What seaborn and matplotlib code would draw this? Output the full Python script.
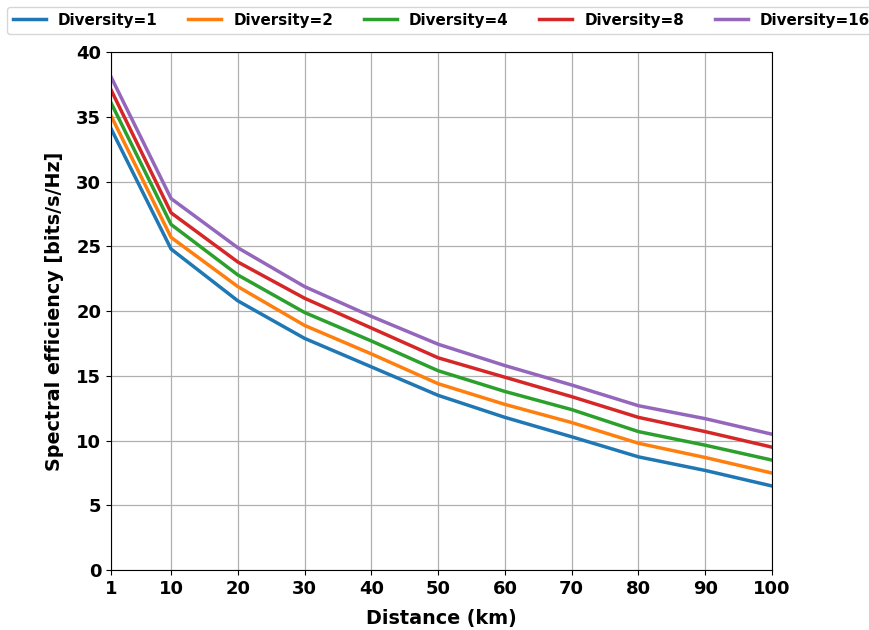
import numpy as np
import pandas as pd
import seaborn as sns
import matplotlib.pyplot as plt

distance = [1, 10, 20, 30, 40, 50, 60, 70, 80, 90, 100]
div_1 = [34.1, 24.8, 20.8, 17.9, 15.7, 13.5, 11.8, 10.3, 8.75, 7.7, 6.5]
div_2 = [35.1, 25.7, 21.9, 18.9, 16.7, 14.4, 12.8, 11.4, 9.8, 8.7, 7.5]
div_4 = [36.1, 26.7, 22.8, 19.9, 17.7, 15.4, 13.8, 12.4, 10.7, 9.65, 8.5]
div_8 = [37.1, 27.6, 23.8, 21.0, 18.7, 16.4, 14.9, 13.4, 11.8, 10.7, 9.5]
div_16 = [38.1, 28.7, 24.9, 21.9, 19.6, 17.45, 15.8, 14.3, 12.7, 11.7, 10.5]

series = {
    'Diversity=1': div_1,
    'Diversity=2': div_2,
    'Diversity=4': div_4,
    'Diversity=8': div_8,
    'Diversity=16': div_16,
}

rows = []
for name, vals in series.items():
    for d, v in zip(distance, vals):
        rows.append({'Distance': d, 'SE': v, 'Diversity': name})
df = pd.DataFrame(rows)

fig = plt.figure(figsize=(8.7, 6.3), dpi=100)
ax = fig.add_axes([0.1276, 0.095, 0.7598, 0.822])

sns.lineplot(data=df, x='Distance', y='SE', hue='Diversity', palette='tab10',
             linewidth=2.5, ax=ax)

ax.set_xlim(1, 100)
ax.set_ylim(0, 40)
ax.set_xticks(distance)
ax.grid(True, color='#b0b0b0', linewidth=0.9)
ax.set_axisbelow(True)

for lab in ax.get_xticklabels() + ax.get_yticklabels():
    lab.set_fontweight('bold')
    lab.set_fontsize(13)

ax.set_xlabel('Distance (km)', fontsize=13.8, fontweight='bold', labelpad=8)
ax.set_ylabel('Spectral efficiency [bits/s/Hz]', fontsize=13.8, fontweight='bold',
              labelpad=9)

ax.legend(loc='center', bbox_to_anchor=(0.5, 1.062), ncol=5,
          prop={'weight': 'bold', 'size': 10.9}, columnspacing=2.0,
          handlelength=2.2)

fig.savefig('out.png', dpi=100)
